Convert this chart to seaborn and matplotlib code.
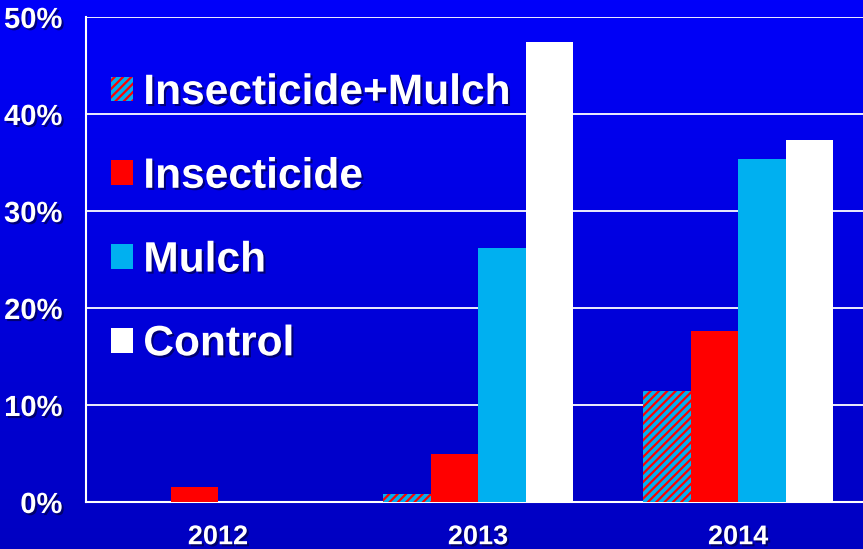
import numpy as np
import pandas as pd
import matplotlib
matplotlib.use("Agg")
import matplotlib.pyplot as plt
import matplotlib.patheffects as pe
from matplotlib.patches import Patch
from matplotlib.colors import LinearSegmentedColormap
import seaborn as sns

# ---- data ----
years = ["2012", "2013", "2014"]
treatments = ["Insecticide+Mulch", "Insecticide", "Mulch", "Control"]
ins_mulch = [0.0, 0.8, 11.4]
insecticide = [1.5, 5.0, 17.6]
mulch = [0.0, 26.2, 35.4]
control = [0.0, 47.4, 37.3]
y_ticks = [0, 10, 20, 30, 40, 50]
y_tick_labels = ["0%", "10%", "20%", "30%", "40%", "50%"]

series = [ins_mulch, insecticide, mulch, control]
df = pd.DataFrame(
    [(y, t, s[i]) for t, s in zip(treatments, series) for i, y in enumerate(years)],
    columns=["year", "treatment", "value"],
)

palette = {"Insecticide+Mulch": "#00B0F0", "Insecticide": "#FF0000",
           "Mulch": "#00B0F0", "Control": "#FFFFFF"}

plt.rcParams["font.family"] = ["Liberation Sans", "DejaVu Sans"]
plt.rcParams["font.weight"] = "bold"
plt.rcParams["hatch.linewidth"] = 1.6

W, H = 863, 549
fig = plt.figure(figsize=(W / 100, H / 100), dpi=100)

# background gradient
bg = fig.add_axes([0, 0, 1, 1], zorder=-10)
grad = np.linspace(0, 1, 256).reshape(-1, 1)
cmap = LinearSegmentedColormap.from_list("bg", ["#0000FA", "#0000C2"])
bg.imshow(grad, aspect="auto", cmap=cmap, extent=[0, 1, 0, 1], origin="upper")
bg.axis("off")

left, right, top, bottom = 86, 863, 17, 502
ax = fig.add_axes([left / W, (H - bottom) / H, (right - left) / W, (bottom - top) / H])
ax.set_facecolor("none")

sns.barplot(data=df, x="year", y="value", hue="treatment", hue_order=treatments,
            palette=palette, saturation=1, width=0.73, ax=ax, legend=False,
            edgecolor="none", linewidth=0, zorder=3)

for bar in ax.containers[0]:
    bar.set_hatch("////")
    bar.set_edgecolor("#FF0000")
    bar.set_linewidth(0)

ax.set_xlim(-0.508, 2.48)
ax.set_ylim(0, 50)
ax.set_yticks(y_ticks)
ax.set_yticklabels(y_tick_labels)
ax.set_xlabel("")
ax.set_ylabel("")

ax.grid(axis="y", color="white", linewidth=1.3, zorder=0)
ax.set_axisbelow(True)
for s in ["top", "right"]:
    ax.spines[s].set_visible(False)
for s in ["left", "bottom"]:
    ax.spines[s].set_color("white")
    ax.spines[s].set_linewidth(1.5)

shadow = [pe.withSimplePatchShadow(offset=(1.5, -1.5), shadow_rgbFace="#000030", alpha=0.6)]

ax.tick_params(axis="y", length=0, pad=17, labelsize=21, labelcolor="white")
ax.tick_params(axis="x", length=0, pad=16, labelsize=19.5, labelcolor="white")
for lbl in ax.get_xticklabels() + ax.get_yticklabels():
    lbl.set_fontweight("bold")
    lbl.set_path_effects(shadow)

handles = [
    Patch(facecolor="#00B0F0", edgecolor="#FF0000", hatch="////", linewidth=0),
    Patch(facecolor="#FF0000", linewidth=0),
    Patch(facecolor="#00B0F0", linewidth=0),
    Patch(facecolor="#FFFFFF", linewidth=0),
]
leg = fig.legend(handles, treatments, loc="upper left",
                 bbox_to_anchor=(111 / W, 1 - 73 / H), frameon=False,
                 prop={"size": 30.6, "weight": "bold"}, labelcolor="white",
                 handlelength=0.52, handleheight=0.52, handletextpad=0.24,
                 labelspacing=1.03, borderpad=0, borderaxespad=0)
for t in leg.get_texts():
    t.set_path_effects(shadow)

fig.savefig("out.png", dpi=100)
